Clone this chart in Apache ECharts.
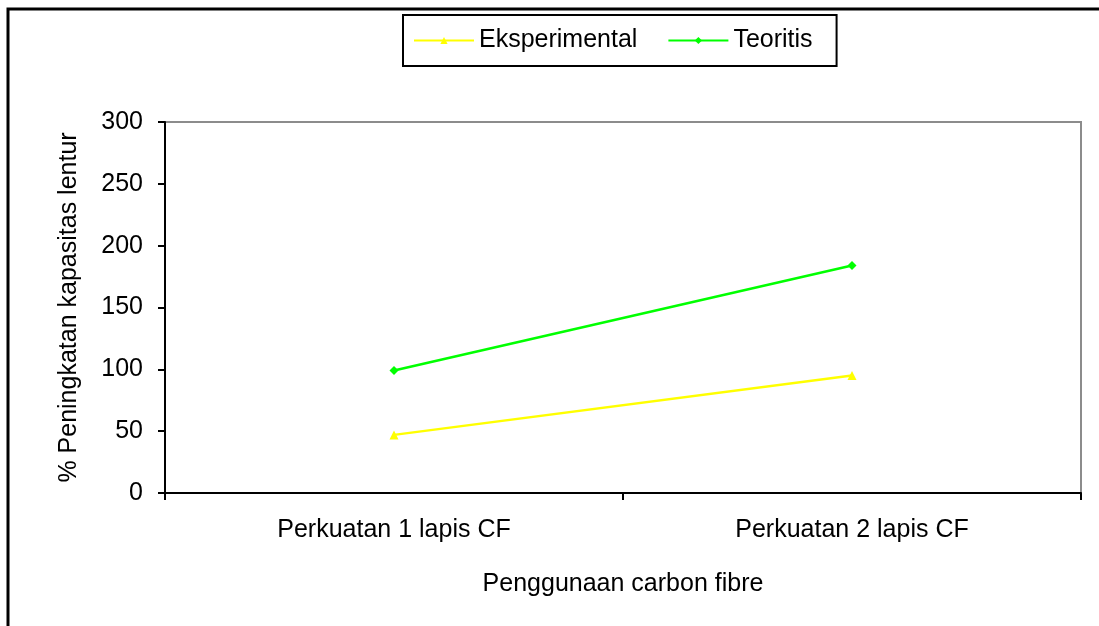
<!DOCTYPE html>
<html>
<head>
<meta charset="utf-8">
<script src="https://cdn.jsdelivr.net/npm/echarts@6/dist/echarts.min.js"></script>
<style>
  html, body { margin: 0; padding: 0; background: #fff; }
  #chart { width: 1099px; height: 626px; }
</style>
</head>
<body>
<div id="chart"></div>
<script>
  // data
  const categories = ['Perkuatan 1 lapis CF', 'Perkuatan 2 lapis CF'];
  const eksperimental = [47, 95];
  const teoritis = [99, 184];
  const yTicks = [0, 50, 100, 150, 200, 250, 300];

  const myChart = echarts.init(document.getElementById('chart'));
  const font = 'Liberation Sans, Arial, sans-serif';

  const option = {
    backgroundColor: '#fff',
    animation: false,
    textStyle: { fontFamily: font },
    graphic: [
      {
        type: 'rect',
        shape: { x: 8, y: 9, width: 1200, height: 700 },
        style: { fill: 'none', stroke: '#000', lineWidth: 3 },
        z: 100
      }
    ],
    legend: {
      data: ['Eksperimental', 'Teoritis'],
      left: 403,
      top: 15,
      padding: [13, 24, 13, 10],
      borderColor: '#000',
      borderWidth: 2,
      itemWidth: 60,
      itemHeight: 9,
      itemGap: 30,
      textStyle: { fontSize: 25, color: '#000', fontFamily: font }
    },
    grid: {
      left: 165,
      right: 18,
      top: 122,
      bottom: 133,
      show: true,
      borderColor: '#8c8c8c',
      borderWidth: 2,
      containLabel: false
    },
    xAxis: {
      type: 'category',
      data: categories,
      boundaryGap: true,
      name: 'Penggunaan carbon fibre',
      nameLocation: 'middle',
      nameGap: 79,
      nameTextStyle: { fontSize: 25, color: '#000', fontFamily: font },
      axisLine: { lineStyle: { color: '#000', width: 2 } },
      axisTick: { show: true, inside: false, length: 7, lineStyle: { color: '#000', width: 2 } },
      axisLabel: { fontSize: 25, color: '#000', margin: 25, fontFamily: font },
      splitLine: { show: false }
    },
    yAxis: {
      type: 'value',
      min: yTicks[0],
      max: yTicks[yTicks.length - 1],
      interval: 50,
      name: '% Peningkatan kapasitas lentur',
      nameLocation: 'middle',
      nameGap: 83,
      nameTextStyle: { fontSize: 25, color: '#000', fontFamily: font },
      axisLine: { show: true, lineStyle: { color: '#000', width: 2 } },
      axisTick: { show: true, length: 7, lineStyle: { color: '#000', width: 2 } },
      axisLabel: { fontSize: 25, color: '#000', margin: 22, fontFamily: font },
      splitLine: { show: false }
    },
    series: [
      {
        name: 'Eksperimental',
        type: 'line',
        data: eksperimental,
        symbol: 'triangle',
        symbolSize: 9,
        lineStyle: { color: '#ffff00', width: 2.5 },
        itemStyle: { color: '#ffff00' }
      },
      {
        name: 'Teoritis',
        type: 'line',
        data: teoritis,
        symbol: 'diamond',
        symbolSize: 9,
        lineStyle: { color: '#00ff00', width: 2.5 },
        itemStyle: { color: '#00ff00' }
      }
    ]
  };

  myChart.setOption(option);
</script>
</body>
</html>
